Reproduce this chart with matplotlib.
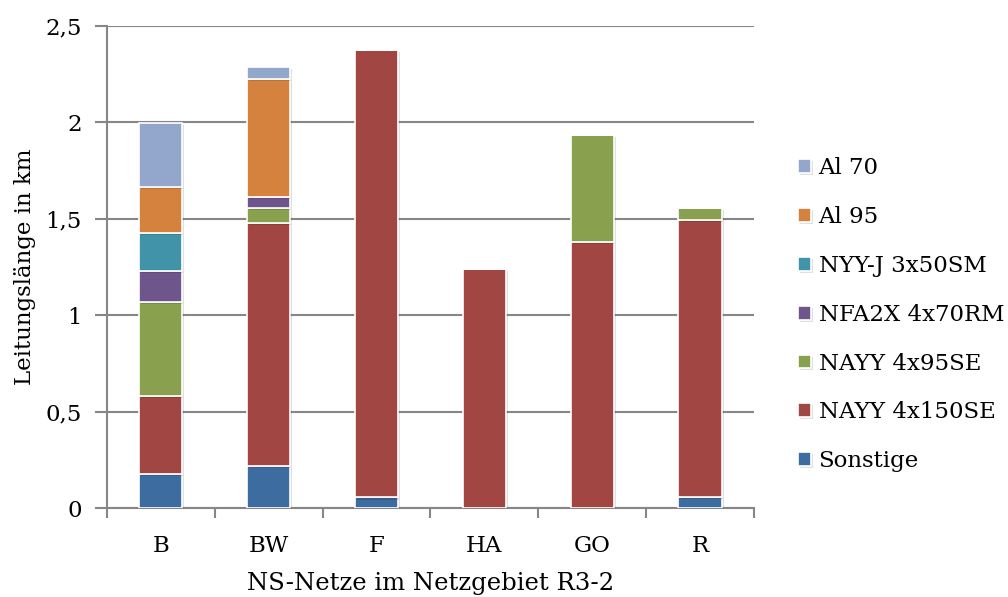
import matplotlib
matplotlib.use("Agg")
import matplotlib.pyplot as plt
import matplotlib.patheffects as pe
import numpy as np

categories = ["B", "BW", "F", "HA", "GO", "R"]

series_names = ["Sonstige", "NAYY 4x150SE", "NAYY 4x95SE", "NFA2X 4x70RM",
                "NYY-J 3x50SM", "Al 95", "Al 70"]
sonstige = [0.18, 0.22, 0.056, 0.0, 0.0, 0.057]
nayy_150 = [0.40, 1.257, 2.318, 1.241, 1.381, 1.434]
nayy_95 = [0.49, 0.079, 0.0, 0.0, 0.552, 0.062]
nfa2x_70 = [0.157, 0.055, 0.0, 0.0, 0.0, 0.0]
nyyj_50 = [0.198, 0.0, 0.0, 0.0, 0.0, 0.0]
al_95 = [0.241, 0.611, 0.0, 0.0, 0.0, 0.0]
al_70 = [0.328, 0.065, 0.0, 0.0, 0.0, 0.0]

colors = ["#3D6CA0", "#A24643", "#89A14E", "#6E568C", "#4093A8", "#D6823F", "#93A7CD"]

plt.rcParams["font.family"] = ["DejaVu Serif"]

fig = plt.figure(figsize=(10.08, 5.97), dpi=100)
ax = fig.add_axes([0.106, 0.1486, 0.642, 0.8086])

x = np.arange(len(categories))
bottom = np.zeros(len(categories))
handles = []
for name, vals, col in zip(series_names,
                           [sonstige, nayy_150, nayy_95, nfa2x_70, nyyj_50, al_95, al_70],
                           colors):
    vals = np.array(vals)
    bars = ax.bar(x, vals, 0.4, bottom=bottom, color=col, edgecolor="white",
                  linewidth=1.2, label=name, zorder=3)
    for b in bars:
        if b.get_height() > 0:
            b.set_path_effects([pe.SimplePatchShadow(offset=(1.5, -1.5), shadow_rgbFace="#000000", alpha=0.12),
                                pe.Normal()])
    handles.append(bars)
    bottom += vals

ax.set_xlim(-0.5, 5.5)
ax.set_ylim(0, 2.5)
ax.set_yticks([0, 0.5, 1, 1.5, 2, 2.5])
ax.set_yticklabels(["0", "0,5", "1", "1,5", "2", "2,5"])
ax.set_xticks(x)
ax.set_xticklabels(categories)
ax.set_xticks(np.arange(-0.5, 6.0, 1), minor=True)
ax.tick_params(axis="x", which="major", length=0, pad=19, labelsize=16.5)
ax.tick_params(axis="x", which="minor", length=7, width=1.5, color="#868686")
ax.tick_params(axis="y", length=9, width=1.5, color="#868686", labelsize=16.5, pad=9)
ax.grid(axis="y", color="#868686", linewidth=1.5, zorder=0)
ax.set_axisbelow(True)

for s in ["top", "right"]:
    ax.spines[s].set_visible(False)
for s in ["left", "bottom"]:
    ax.spines[s].set_color("#868686")
    ax.spines[s].set_linewidth(1.5)

ax.set_xlabel("NS-Netze im Netzgebiet R3-2", fontsize=17.5, labelpad=11)
ax.set_ylabel("Leitungslänge in km", fontsize=16.5, labelpad=7)

leg = ax.legend(handles[::-1], series_names[::-1], loc="center left",
                bbox_to_anchor=(1.036, 0.401), frameon=False, fontsize=16.5,
                handlelength=0.55, handleheight=0.55, handletextpad=0.35,
                labelspacing=1.17)

fig.savefig("out.png", dpi=100)
